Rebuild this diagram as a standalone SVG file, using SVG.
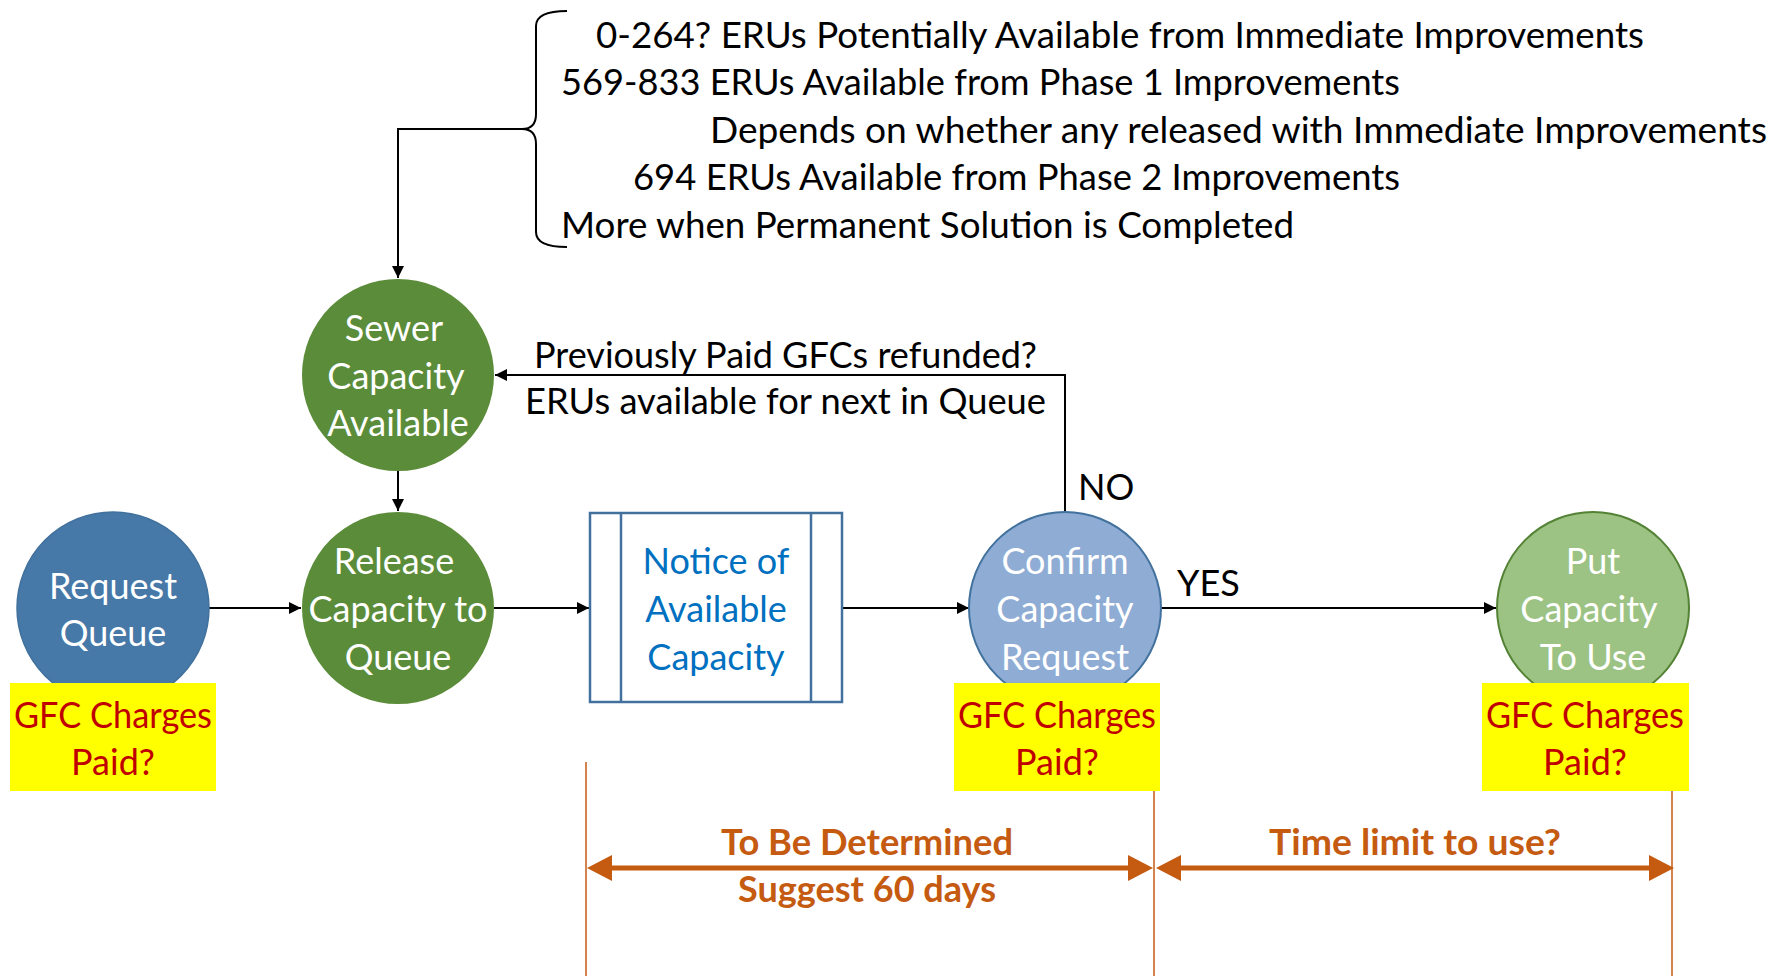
<svg xmlns="http://www.w3.org/2000/svg" width="1788" height="976" viewBox="0 0 1788 976">
<style>
text{font-family:Lato,"Open Sans","Liberation Sans",sans-serif;font-size:36px}
.k{fill:#000}
.w{fill:#fff;text-anchor:middle}
.b{fill:#0070C0;text-anchor:middle}
.r{fill:#C00000;text-anchor:middle}
.o{fill:#C55A11;font-weight:bold;text-anchor:middle}
.c{stroke:#000;stroke-width:2;fill:none}
.ol{stroke:#C55A11;stroke-width:1.5;fill:none}
.oa{stroke:#C55A11;stroke-width:5;fill:none}
.oh{fill:#C55A11}
.y{fill:#FFFF00}
</style>
<defs>
<marker id="ah" viewBox="0 0 10 10" refX="10" refY="5" markerWidth="6" markerHeight="6" orient="auto" markerUnits="strokeWidth">
<path d="M0,0 L10,5 L0,10 z" fill="#000"/>
</marker>
</defs>
<g id="brace">
<path class="c" d="M567,11 Q536,11 536,26 L536,114 Q536,129 522,129 Q536,129 536,144 L536,232 Q536,247 567,247"/>
<text class="k" x="596" y="48" textLength="1048" lengthAdjust="spacingAndGlyphs">0-264? ERUs Potentially Available from Immediate Improvements</text>
<text class="k" x="561" y="95" textLength="839" lengthAdjust="spacingAndGlyphs">569-833 ERUs Available from Phase 1 Improvements</text>
<text class="k" x="710" y="143" textLength="1057" lengthAdjust="spacingAndGlyphs">Depends on whether any released with Immediate Improvements</text>
<text class="k" x="633" y="190" textLength="767" lengthAdjust="spacingAndGlyphs">694 ERUs Available from Phase 2 Improvements</text>
<text class="k" x="561" y="238" textLength="733" lengthAdjust="spacingAndGlyphs">More when Permanent Solution is Completed</text>
</g>
<g id="connectors">
<path class="c" d="M522,129 L398,129 L398,278" marker-end="url(#ah)"/>
<path class="c" d="M398,471 L398,511" marker-end="url(#ah)"/>
<path class="c" d="M209,608 L301,608" marker-end="url(#ah)"/>
<path class="c" d="M494,608 L589,608" marker-end="url(#ah)"/>
<path class="c" d="M842,608 L969,608" marker-end="url(#ah)"/>
<path class="c" d="M1161,608 L1496,608" marker-end="url(#ah)"/>
<path class="c" d="M1065,513 L1065,375 L495,375" marker-end="url(#ah)"/>
<text class="k" x="534" y="368" textLength="503" lengthAdjust="spacingAndGlyphs">Previously Paid GFCs refunded?</text>
<text class="k" x="525" y="414" textLength="521" lengthAdjust="spacingAndGlyphs">ERUs available for next in Queue</text>
<text class="k" x="1078" y="500">NO</text>
<text class="k" x="1177" y="596">YES</text>
</g>
<g id="sewer">
<circle cx="398" cy="375" r="96" fill="#5B8C39"/>
<text class="w" x="394" y="341">Sewer</text>
<text class="w" x="396" y="389">Capacity</text>
<text class="w" x="398" y="436">Available</text>
</g>
<g id="request">
<circle cx="113" cy="608" r="96" fill="#4678A8" stroke="#41719C" stroke-width="1.5"/>
<text class="w" x="113" y="599">Request</text>
<text class="w" x="113" y="646">Queue</text>
<rect class="y" x="10" y="683" width="206" height="108"/>
<text class="r" x="113" y="728" textLength="198" lengthAdjust="spacingAndGlyphs">GFC Charges</text>
<text class="r" x="113" y="775">Paid?</text>
</g>
<g id="release">
<circle cx="398" cy="608" r="96" fill="#5B8C39"/>
<text class="w" x="394" y="574">Release</text>
<text class="w" x="398" y="622">Capacity to</text>
<text class="w" x="398" y="670">Queue</text>
</g>
<g id="notice">
<rect x="590" y="513" width="252" height="189" fill="#fff" stroke="#41719C" stroke-width="2.5"/>
<line x1="621" y1="513" x2="621" y2="702" stroke="#41719C" stroke-width="2.5"/>
<line x1="811" y1="513" x2="811" y2="702" stroke="#41719C" stroke-width="2.5"/>
<text class="b" x="716" y="574">Notice of</text>
<text class="b" x="716" y="622">Available</text>
<text class="b" x="716" y="670">Capacity</text>
</g>
<g id="confirm">
<circle cx="1065" cy="608" r="96" fill="#8EACD4" stroke="#41719C" stroke-width="2"/>
<text class="w" x="1065" y="574">Confirm</text>
<text class="w" x="1065" y="622">Capacity</text>
<text class="w" x="1065" y="670">Request</text>
<rect class="y" x="954" y="683" width="206" height="108"/>
<text class="r" x="1057" y="728" textLength="198" lengthAdjust="spacingAndGlyphs">GFC Charges</text>
<text class="r" x="1057" y="775">Paid?</text>
</g>
<g id="put">
<circle cx="1593" cy="608" r="96" fill="#9CC384" stroke="#548235" stroke-width="2"/>
<text class="w" x="1593" y="574">Put</text>
<text class="w" x="1589" y="622">Capacity</text>
<text class="w" x="1593" y="670">To Use</text>
<rect class="y" x="1482" y="683" width="207" height="108"/>
<text class="r" x="1585" y="728" textLength="198" lengthAdjust="spacingAndGlyphs">GFC Charges</text>
<text class="r" x="1585" y="775">Paid?</text>
</g>
<g id="timeline">
<line class="ol" x1="586" y1="762" x2="586" y2="976"/>
<line class="ol" x1="1154" y1="791" x2="1154" y2="976"/>
<line class="ol" x1="1672" y1="791" x2="1672" y2="976"/>
<line class="oa" x1="606" y1="868" x2="1134" y2="868"/>
<polygon class="oh" points="587,868 612,855 612,881"/>
<polygon class="oh" points="1153,868 1128,855 1128,881"/>
<line class="oa" x1="1176" y1="868" x2="1653" y2="868"/>
<polygon class="oh" points="1156,868 1181,855 1181,881"/>
<polygon class="oh" points="1674,868 1649,855 1649,881"/>
<text class="o" x="867" y="855" textLength="292" lengthAdjust="spacingAndGlyphs">To Be Determined</text>
<text class="o" x="867" y="902" textLength="258" lengthAdjust="spacingAndGlyphs">Suggest 60 days</text>
<text class="o" x="1415" y="855" textLength="292" lengthAdjust="spacingAndGlyphs">Time limit to use?</text>
</g>
</svg>
